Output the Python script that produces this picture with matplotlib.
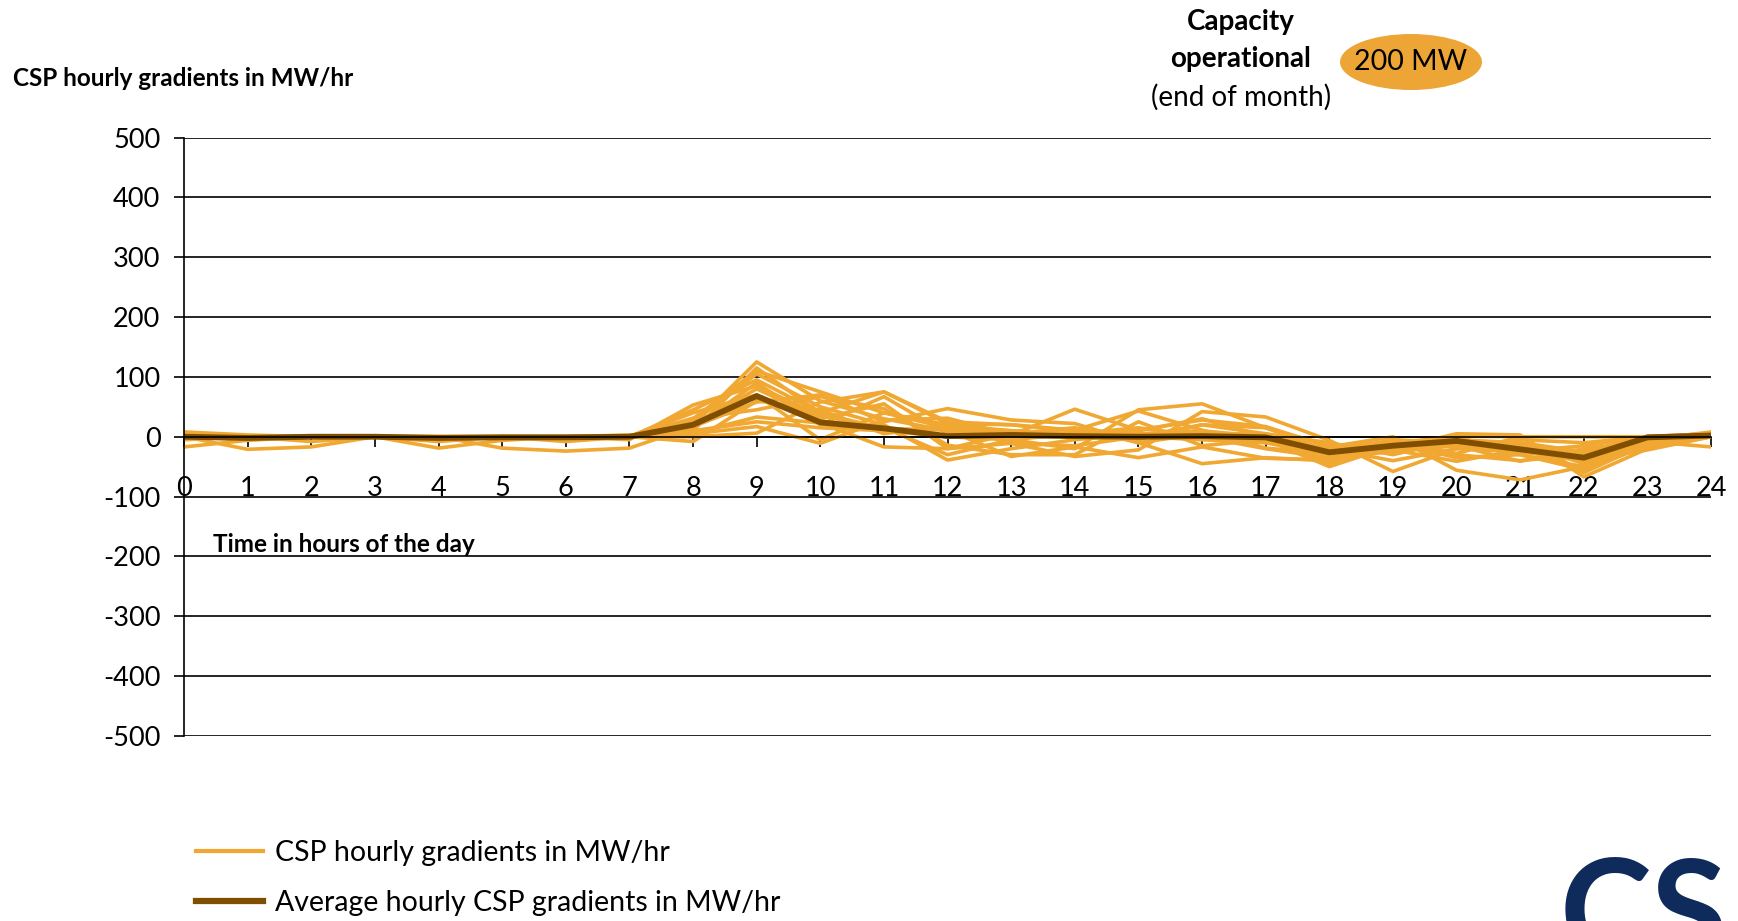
import matplotlib
matplotlib.use('Agg')
import matplotlib.pyplot as plt
from matplotlib.patches import Ellipse
from matplotlib.lines import Line2D

plt.rcParams['font.family'] = ['Lato', 'DejaVu Sans']
plt.rcParams['axes.unicode_minus'] = False

hours = list(range(25))

# daily CSP gradients (MW/hr), one list per day
day01 = [0, -5, 0, 0, -3, 0, 0, 0, 20, 125, 60, 30, 10, 5, 0, 5, 10, 0, -20, -10, -5, -15, -30, 0, 5]
day02 = [5, 0, 0, 0, 0, 0, 0, 0, 30, 110, 75, 40, 20, 10, 5, 0, -5, -10, -30, -20, -10, -25, -40, -5, 0]
day03 = [8, 3, 0, 0, 0, -3, 0, 0, 45, 95, 40, 75, 25, 20, 10, 0, 20, 15, -15, -10, 0, -30, -50, -10, 0]
day04 = [-17, -6, 0, 0, -19, -6, 0, -5, 53, 85, 35, 15, -30, -5, -20, 45, 55, 15, -25, -5, -10, -20, -35, -5, 8]
day05 = [0, -21, -17, 0, 0, -19, -24, -19, 17, 58, 70, 25, 47, 28, 22, -10, -45, -35, -40, -20, 5, 3, -67, -20, 0]
day06 = [-5, 0, -8, 0, -8, 0, -8, 0, 31, 45, 67, 47, -14, -30, -30, 25, -15, -5, -50, -15, -15, -41, -20, -8, -17]
day07 = [3, 0, 0, 0, 0, 0, 0, 3, 6, 33, 23, -17, -20, -11, -33, -22, 42, 33, -6, -58, -20, -5, -10, 0, 5]
day08 = [0, 0, 0, 0, 0, 0, 0, 0, 5, 17, -11, 28, 31, 3, 46, 11, 28, 17, -17, 0, -56, -72, -50, 0, 0]
day09 = [0, -3, 0, 0, 0, 0, 0, 0, 0, 6, 58, 75, 22, 20, 11, 43, 11, -19, -28, -11, -28, 0, 0, 0, 0]
day10 = [0, 0, 0, 0, 0, 0, 0, 0, 10, 115, 39, 14, 11, -33, -17, -35, -17, -36, -39, -22, -41, -22, -39, -22, 0]
day11 = [0, 0, 0, 0, 0, 0, 0, 0, 25, 105, 50, 20, -39, -20, -5, 5, 0, -5, -30, -15, 1, 0, -60, -11, 0]
day12 = [3, 0, 0, 0, 0, 0, 0, 0, 15, 90, 20, 67, 5, 0, 0, -5, 20, 5, -10, -30, -5, -10, -25, 0, 3]
day13 = [0, 0, 0, 0, 0, 0, 0, 0, 40, 70, -5, 40, 15, 10, 5, 10, 30, 0, -45, -5, -30, -40, -30, -5, 0]
day14 = [0, -3, 0, 0, -3, 0, -3, 0, 10, 25, 15, 10, 0, -5, 5, 15, 0, -20, -35, -25, -15, -10, -45, -10, 0]
day15 = [-3, 0, 0, 0, 0, 0, 0, 0, -8, 60, 45, 5, 20, -11, -15, 0, 10, -10, -20, -40, -20, -25, -15, 0, 0]
day16 = [0, 0, 0, 0, 0, 0, 0, 0, 20, 80, 30, 55, -20, 5, 15, -10, 5, 5, -25, -10, -35, -30, -55, -15, 0]
days = [day01, day02, day03, day04, day05, day06, day07, day08,
        day09, day10, day11, day12, day13, day14, day15, day16]

average = [0, -2, 0, 0, -2, -1, -1, 0, 20, 68, 24, 14, 1, 3, 1, 0, 1, -1, -26, -15, -7, -21, -35, -1, 2]

orange = '#F0A832'
brown = '#7F4E00'

fig = plt.figure(figsize=(17.38, 9.21), dpi=100)
ax = fig.add_axes([0.1059, 0.2009, 0.8786, 0.6498])

for d in days:
    ax.plot(hours, d, color=orange, lw=2.6)
ax.plot(hours, average, color=brown, lw=4.2)

ax.set_xlim(0, 24)
ax.set_ylim(-500, 500)
ax.set_xticks(hours)
ax.set_yticks(range(-500, 501, 100))
ax.yaxis.grid(True, color='black', lw=1.2)
ax.set_axisbelow(True)

ax.spines['top'].set_visible(False)
ax.spines['right'].set_visible(False)
ax.spines['bottom'].set_position(('data', 0))
ax.spines['bottom'].set_linewidth(1.2)
ax.spines['left'].set_linewidth(1.2)
ax.tick_params(axis='x', direction='out', length=7, width=1.2, pad=21, labelsize=19.5)
ax.tick_params(axis='y', direction='out', length=7, width=1.2, pad=10, labelsize=19.5)

ax.text(0.45, -200, 'Time in hours of the day', fontsize=17.5, fontweight='bold',
        va='bottom', ha='left')

fig.text(13 / 1738, 1 - 79 / 921, 'CSP hourly gradients in MW/hr', fontsize=17.5,
         fontweight='bold', va='center', ha='left')

fig.text(1241 / 1738, 1 - 22 / 921, 'Capacity', fontsize=20, fontweight='bold',
         ha='center', va='center')
fig.text(1241 / 1738, 1 - 59 / 921, 'operational', fontsize=20, fontweight='bold',
         ha='center', va='center')
fig.text(1241 / 1738, 1 - 97 / 921, '(end of month)', fontsize=20,
         ha='center', va='center')
ell = Ellipse((1411 / 1738, 1 - 62 / 921), 142 / 1738, 56 / 921,
              transform=fig.transFigure, facecolor='#EDA535', edgecolor='none')
fig.patches.append(ell)
fig.text(1411 / 1738, 1 - 62 / 921, '200 MW', fontsize=20.5, ha='center', va='center')

handles = [Line2D([], [], color=orange, lw=3),
           Line2D([], [], color=brown, lw=4.5)]
fig.legend(handles, ['CSP hourly gradients in MW/hr',
                     'Average hourly CSP gradients in MW/hr'],
           loc='upper left', bbox_to_anchor=(196 / 1738, 1 - 840 / 921),
           frameon=False, fontsize=20.5, borderpad=0, borderaxespad=0,
           handlelength=2.35, handletextpad=0.42, labelspacing=0.85)

# logo, cut off at the bottom right corner
fig.text(1560 / 1738, 1 - 960 / 921, 'CSI', fontsize=100, fontweight='bold',
         color='#0F2B5B', ha='left', va='baseline')

fig.savefig('out.png', dpi=100)
